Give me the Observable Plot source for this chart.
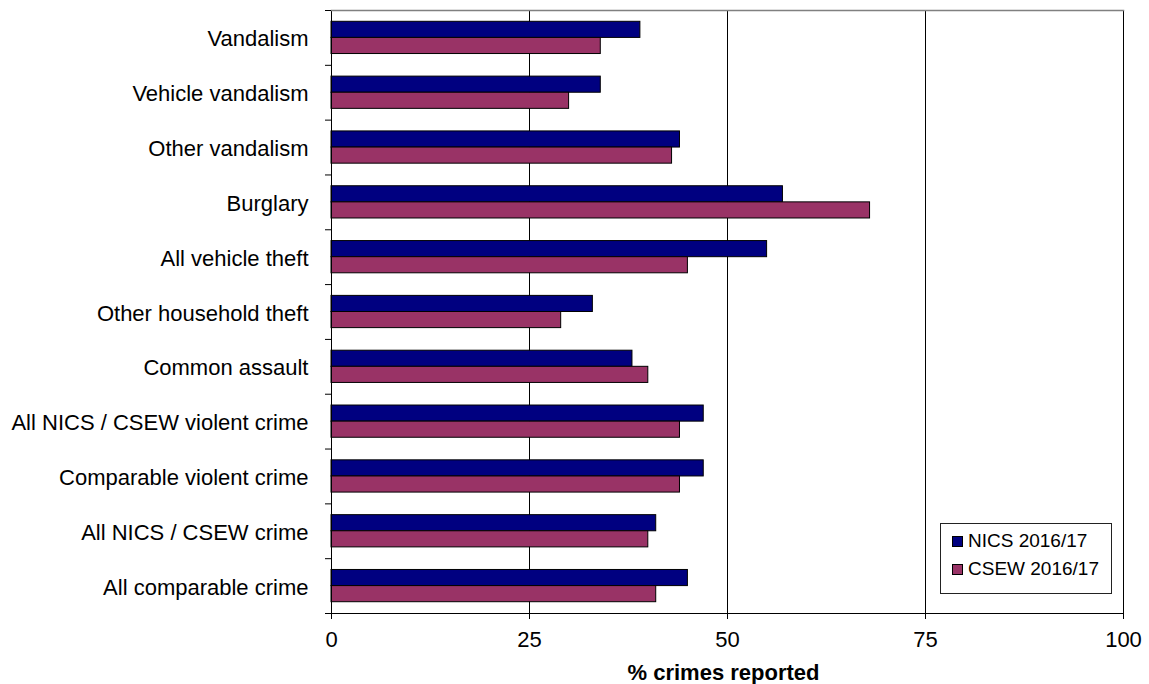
<!DOCTYPE html>
<html>
<head>
<meta charset="utf-8">
<script src="https://cdn.jsdelivr.net/npm/d3@7"></script>
<script src="https://cdn.jsdelivr.net/npm/@observablehq/plot@0.6"></script>
<style>
  html, body { margin: 0; padding: 0; background: #fff; }
  #wrap { position: relative; width: 1149px; height: 684px; font-family: "Liberation Sans", Arial, sans-serif; }
  #legend { position: absolute; background: #fff; border: 1px solid #222; box-sizing: border-box; }
  #legend .item { position: absolute; display: flex; align-items: center; font-size: 19px; color: #000; white-space: nowrap; }
  #legend .sw { width: 9px; height: 9px; border: 1px solid #000; margin-right: 5px; }
</style>
</head>
<body>
<div id="wrap"></div>
<script>
const categories = [
  "Vandalism",
  "Vehicle vandalism",
  "Other vandalism",
  "Burglary",
  "All vehicle theft",
  "Other household theft",
  "Common assault",
  "All NICS / CSEW violent crime",
  "Comparable violent crime",
  "All NICS / CSEW crime",
  "All comparable crime"
];
const series = ["NICS 2016/17", "CSEW 2016/17"];
const nicsValues = [39, 34, 44, 57, 55, 33, 38, 47, 47, 41, 45];
const csewValues = [34, 30, 43, 68, 45, 29, 40, 44, 44, 40, 41];
const seriesColors = ["#000080", "#993366"];
const xTicks = [0, 25, 50, 75, 100];
const xLabel = "% crimes reported";

const W = 1149, H = 684;
const mTop = 10, mBottom = 71, mLeft = 331, mRight = 26;
const step = (H - mTop - mBottom) / categories.length;
const gap = step * 0.206;
const barH = (step - 2 * gap) / 2;

const nics = categories.map((c, i) => ({category: c, series: series[0], value: nicsValues[i]}));
const csew = categories.map((c, i) => ({category: c, series: series[1], value: csewValues[i]}));

const chart = Plot.plot({
  width: W,
  height: H,
  marginTop: mTop,
  marginBottom: mBottom,
  marginLeft: mLeft,
  marginRight: mRight,
  style: {fontFamily: "'Liberation Sans', Arial, sans-serif", fontSize: "22px", color: "#000", background: "#fff"},
  x: {domain: [0, 100], axis: null},
  y: {domain: categories, padding: 0, round: false, axis: null},
  color: {domain: series, range: seriesColors},
  marks: [
    Plot.ruleX(xTicks.slice(1), {stroke: "#000", strokeWidth: 1}),
    Plot.barX(nics, {x: "value", y: "category", fill: "series", stroke: "#000", strokeWidth: 1, insetTop: gap, insetBottom: gap + barH}),
    Plot.barX(csew, {x: "value", y: "category", fill: "series", stroke: "#000", strokeWidth: 1, insetTop: gap + barH, insetBottom: gap}),
    Plot.ruleX([0], {stroke: "#000", strokeWidth: 1}),
    Plot.frame({anchor: "top", stroke: "#808080", strokeWidth: 1.5}),
    Plot.frame({anchor: "bottom", stroke: "#000", strokeWidth: 1}),
    Plot.axisY({tickSize: 0, tickPadding: 23, label: null, dy: 1.5, fontSize: 22}),
    Plot.axisY({tickSize: 6, tickFormat: () => "", label: null, dy: -step / 2, stroke: "#000", strokeOpacity: 1}),
    Plot.axisY([categories[categories.length - 1]], {tickSize: 6, tickFormat: () => "", label: null, dy: step / 2, stroke: "#000", strokeOpacity: 1}),
    Plot.axisX({ticks: xTicks, tickSize: 6, tickPadding: 12, label: null, fontSize: 22, stroke: "#000"}),
    Plot.text([xLabel], {frameAnchor: "bottom", lineAnchor: "middle", dy: 59.5, dx: -4, fontWeight: "bold", fontSize: 22, fill: "#000"})
  ]
});

const wrap = document.getElementById("wrap");
wrap.appendChild(chart);

// Legend (HTML, positioned inside the plot area) built from the colour scale
const color = chart.scale("color");
const legend = document.createElement("div");
legend.id = "legend";
legend.style.left = "940px";
legend.style.top = "523px";
legend.style.width = "172px";
legend.style.height = "71px";
color.domain.forEach((s, i) => {
  const item = document.createElement("div");
  item.className = "item";
  item.style.left = "11px";
  item.style.top = (5 + i * 28) + "px";
  item.style.height = "24px";
  const sw = document.createElement("div");
  sw.className = "sw";
  sw.style.background = color.range[i];
  const t = document.createElement("span");
  t.textContent = s;
  item.appendChild(sw);
  item.appendChild(t);
  legend.appendChild(item);
});
wrap.appendChild(legend);
</script>
</body>
</html>
